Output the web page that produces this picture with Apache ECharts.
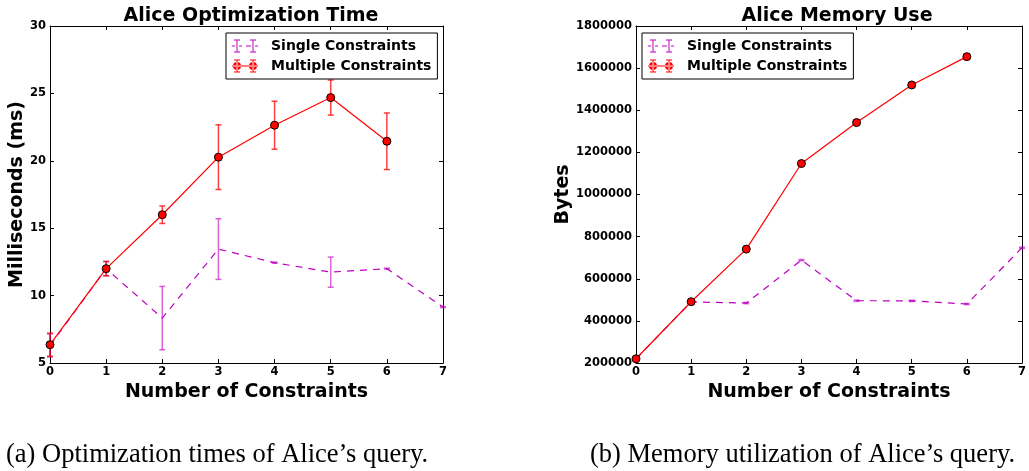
<!DOCTYPE html>
<html>
<head>
<meta charset="utf-8">
<script src="https://cdn.jsdelivr.net/npm/echarts@6/dist/echarts.min.js"></script>
<style>
  html, body { margin: 0; padding: 0; background: #fff; }
  #chart { width: 1029px; height: 471px; }
</style>
</head>
<body>
<div id="chart"></div>
<script>
// x values: number of constraints
var constraints = [0, 1, 2, 3, 4, 5, 6, 7];

// (a) optimization time, ms
var timeSingle = [6.3, 12.0, 8.33, 13.45, 12.44, 11.74, 12.0, 9.15];
var timeSingleErr = [0.86, 0.53, 2.35, 2.25, 0.04, 1.12, 0.04, 0.04];
var timeMultiple = [6.36, 12.0, 16.0, 20.27, 22.64, 24.69, 21.45];
var timeMultipleErr = [0.86, 0.53, 0.65, 2.4, 1.78, 1.3, 2.1];

// (b) memory, bytes
var memSingle = [220000, 490000, 484600, 688500, 495700, 495000, 480000, 747000];
var memSingleErr = [3000, 3000, 3000, 3000, 3000, 3000, 3000, 3000];
var memMultiple = [220000, 490900, 740700, 1147000, 1341500, 1520000, 1654500];

var titles = ['Alice Optimization Time', 'Alice Memory Use'];
var captions = ['(a) Optimization times of Alice\u2019s query.', '(b) Memory utilization of Alice\u2019s query.'];

var MAGENTA = '#bf00bf';
var RED = '#ff0000';
var FONT = 'DejaVu Sans';

function pairs(ys) {
  return ys.map(function (v, i) { return [constraints[i], v]; });
}
function triples(ys, es) {
  return ys.map(function (v, i) { return [constraints[i], v, es[i]]; });
}

// 误差棒
function errRender(color) {
  return function (params, api) {
    var x = api.value(0), v = api.value(1), e = api.value(2);
    var hi = api.coord([x, v + e]);
    var lo = api.coord([x, v - e]);
    var w = 3;
    var st = { stroke: color, lineWidth: 1.5 };
    return {
      type: 'group',
      children: [
        { type: 'line', shape: { x1: hi[0], y1: hi[1], x2: lo[0], y2: lo[1] }, style: st },
        { type: 'line', shape: { x1: hi[0] - w, y1: hi[1], x2: hi[0] + w, y2: hi[1] }, style: st },
        { type: 'line', shape: { x1: lo[0] - w, y1: lo[1], x2: lo[0] + w, y2: lo[1] }, style: st }
      ]
    };
  };
}

// legend icons (26 x 13 box)
var singleIcon = 'path://M2,0H8V1H2Z M4.5,0H5.5V13H4.5Z M2,12H8V13H2Z M18,0H24V1H18Z M20.5,0H21.5V13H20.5Z M18,12H24V13H18Z M0,6H3V7H0Z M7,6H10V7H7Z M14,6H19V7H14Z M23,6H26V7H23Z';
var multiIcon = 'path://M2,0H8V1H2Z M4.5,0H5.5V13H4.5Z M2,12H8V13H2Z M18,0H24V1H18Z M20.5,0H21.5V13H20.5Z M18,12H24V13H18Z M0,6H26V7H0Z M1,6.5A4,4 0 1 0 9,6.5A4,4 0 1 0 1,6.5Z M17,6.5A4,4 0 1 0 25,6.5A4,4 0 1 0 17,6.5Z';

var grids = [
  { left: 50, top: 26, width: 393, height: 337 },
  { left: 636, top: 26, width: 392, height: 337 }
];

var tickLabel = { color: '#000', fontFamily: FONT, fontWeight: 'bold', fontSize: 11.5 };
var nameStyle = { color: '#000', fontFamily: FONT, fontWeight: 'bold', fontSize: 19 };

var xAxes = [], yAxes = [];
[0, 1].forEach(function (g) {
  xAxes.push({
    type: 'value', gridIndex: g, min: 0, max: 7, interval: 1,
    name: 'Number of Constraints', nameLocation: 'middle', nameGap: 13, nameTextStyle: nameStyle,
    axisLine: { onZero: false, lineStyle: { color: '#000', width: 1 } },
    axisTick: { inside: true, length: 4, lineStyle: { color: '#000' } },
    axisLabel: Object.assign({ margin: 3 }, tickLabel),
    splitLine: { show: false }
  });
  xAxes.push({
    type: 'value', gridIndex: g, position: 'top', min: 0, max: 7, interval: 1,
    axisLine: { onZero: false, lineStyle: { color: '#000', width: 1 } },
    axisTick: { inside: true, length: 4, lineStyle: { color: '#000' } },
    axisLabel: { show: false }, splitLine: { show: false }
  });
});
yAxes.push({
  type: 'value', gridIndex: 0, min: 5, max: 30, interval: 5,
  name: 'Milliseconds (ms)', nameLocation: 'middle', nameGap: 23, nameTextStyle: nameStyle,
  axisLine: { show: true, onZero: false, lineStyle: { color: '#000' } },
  axisTick: { show: true, inside: true, length: 4, lineStyle: { color: '#000' } },
  axisLabel: Object.assign({ margin: 4 }, tickLabel),
  splitLine: { show: false }
});
yAxes.push({
  type: 'value', gridIndex: 0, position: 'right', min: 5, max: 30, interval: 5,
  axisLine: { show: true, onZero: false, lineStyle: { color: '#000' } },
  axisTick: { show: true, inside: true, length: 4, lineStyle: { color: '#000' } },
  axisLabel: { show: false }, splitLine: { show: false }
});
yAxes.push({
  type: 'value', gridIndex: 1, min: 200000, max: 1800000, interval: 200000,
  name: 'Bytes', nameLocation: 'middle', nameGap: 60, nameTextStyle: nameStyle,
  axisLine: { show: true, onZero: false, lineStyle: { color: '#000' } },
  axisTick: { show: true, inside: true, length: 4, lineStyle: { color: '#000' } },
  axisLabel: Object.assign({ margin: 4, formatter: function (v) { return String(v); } }, tickLabel),
  splitLine: { show: false }
});
yAxes.push({
  type: 'value', gridIndex: 1, position: 'right', min: 200000, max: 1800000, interval: 200000,
  axisLine: { show: true, onZero: false, lineStyle: { color: '#000' } },
  axisTick: { show: true, inside: true, length: 4, lineStyle: { color: '#000' } },
  axisLabel: { show: false }, splitLine: { show: false }
});

function legendAt(left) {
  return {
    left: left, top: 33, orient: 'vertical',
    backgroundColor: '#fff', borderColor: '#000', borderWidth: 1, borderRadius: 0,
    padding: [6, 6, 6, 6], itemGap: 6, itemWidth: 26, itemHeight: 13,
    selectedMode: false,
    textStyle: { color: '#000', fontFamily: FONT, fontWeight: 'bold', fontSize: 14, padding: [0, 0, 0, 8] },
    data: [
      { name: 'Single Constraints', icon: singleIcon, itemStyle: { color: MAGENTA, borderWidth: 0 } },
      { name: 'Multiple Constraints', icon: multiIcon, itemStyle: { color: RED, borderWidth: 0 } }
    ]
  };
}

function lineSeries(name, xi, yi, data, isMulti) {
  return {
    name: name, type: 'line', xAxisIndex: xi, yAxisIndex: yi, data: data,
    symbol: isMulti ? 'circle' : 'none', symbolSize: 8,
    itemStyle: { color: isMulti ? RED : MAGENTA, borderColor: '#000', borderWidth: 1 },
    lineStyle: { color: isMulti ? RED : MAGENTA, width: 1.2, type: isMulti ? 'solid' : [7, 6] },
    z: isMulti ? 4 : 2, animation: false
  };
}
function errSeries(name, xi, yi, data, color, z) {
  return {
    name: name, type: 'custom', xAxisIndex: xi, yAxisIndex: yi, data: data,
    renderItem: errRender(color), encode: { x: 0, y: 1 }, z: z, animation: false
  };
}

var option = {
  backgroundColor: '#fff',
  animation: false,
  title: [
    { text: titles[0], left: 246, top: 2, textAlign: 'center', textStyle: { fontFamily: FONT, fontWeight: 'bold', fontSize: 19, color: '#000' } },
    { text: titles[1], left: 832, top: 2, textAlign: 'center', textStyle: { fontFamily: FONT, fontWeight: 'bold', fontSize: 19, color: '#000' } },
    { text: captions[0], left: 6, top: 442, padding: 0, textStyle: { fontFamily: 'Liberation Serif', fontWeight: 'normal', fontSize: 26.5, color: '#000' } },
    { text: captions[1], left: 590, top: 442, padding: 0, textStyle: { fontFamily: 'Liberation Serif', fontWeight: 'normal', fontSize: 26.5, color: '#000' } }
  ],
  legend: [legendAt(226), legendAt(642)],
  grid: grids,
  xAxis: xAxes,
  yAxis: yAxes,
  series: [
    // (a)
    lineSeries('Single Constraints', 0, 0, pairs(timeSingle), false),
    errSeries('Single Constraints', 0, 0, triples(timeSingle, timeSingleErr), 'rgba(191,0,191,0.6)', 3),
    lineSeries('Multiple Constraints', 0, 0, pairs(timeMultiple), true),
    errSeries('Multiple Constraints', 0, 0, triples(timeMultiple, timeMultipleErr), 'rgba(255,0,0,0.75)', 3),
    // (b)
    lineSeries('Single Constraints', 2, 2, pairs(memSingle), false),
    errSeries('Single Constraints', 2, 2, triples(memSingle, memSingleErr), 'rgba(191,0,191,0.6)', 3),
    lineSeries('Multiple Constraints', 2, 2, pairs(memMultiple), true)
  ]
};

var myChart = echarts.init(document.getElementById('chart'));
myChart.setOption(option);
</script>
</body>
</html>
